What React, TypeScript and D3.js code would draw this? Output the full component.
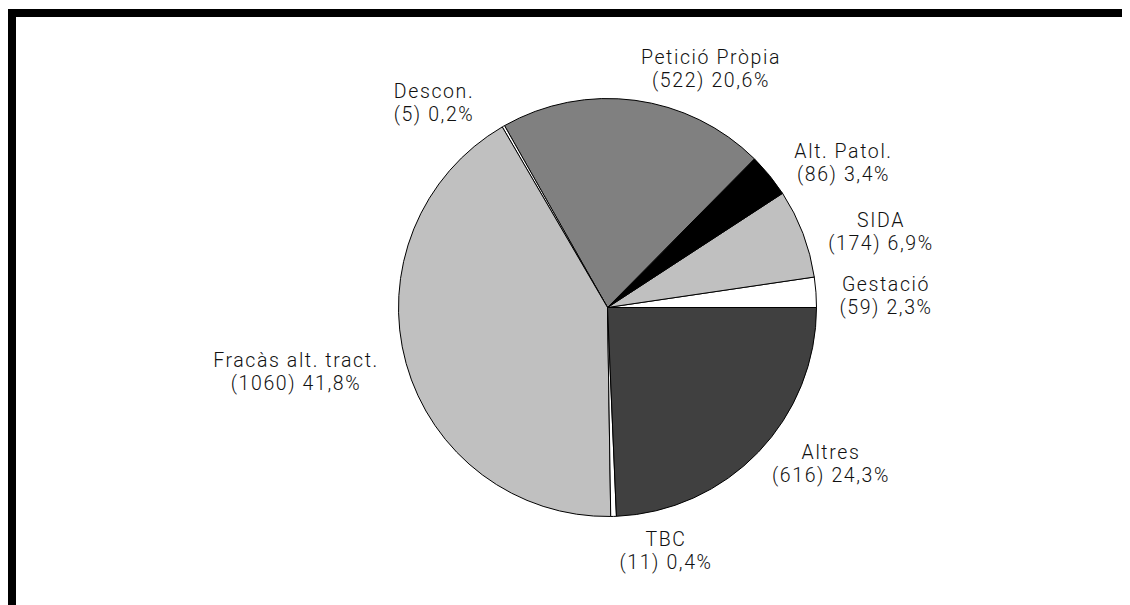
import React, { useEffect, useRef } from 'react';
import * as d3 from 'd3';

// Slices, counter-clockwise from 3 o'clock
const categories = [
  'Gestació',
  'SIDA',
  'Alt. Patol.',
  'Petició Pròpia',
  'Descon.',
  'Fracàs alt. tract.',
  'TBC',
  'Altres',
];
const counts = [59, 174, 86, 522, 5, 1060, 11, 616];
const fills = ['#ffffff', '#c0c0c0', '#000000', '#808080', '#ffffff', '#c0c0c0', '#ffffff', '#404040'];

// label anchor (first line baseline) relative to pie centre
const labelOffsets: [number, number][] = [
  [278.5, -16.5],
  [273.5, -80.5],
  [236, -149.5],
  [103.5, -243.5],
  [-173.5, -209.5],
  [-311.5, 59.5],
  [58.5, 238.5],
  [223.5, 151.5],
];

const width = 1122;
const height = 597;

const App: React.FC = () => {
  const svgRef = useRef<SVGSVGElement>(null);

  useEffect(() => {
    if (!svgRef.current) return;
    const svg = d3.select(svgRef.current);
    svg.selectAll('*').remove();

    // frame: thick bars on top and left
    svg.append('rect').attr('x', 0).attr('y', 1).attr('width', width).attr('height', 8).attr('fill', '#000');
    svg.append('rect').attr('x', 0).attr('y', 1).attr('width', 8).attr('height', height).attr('fill', '#000');

    const cx = 599.5;
    const cy = 299.5;
    const radius = 209;

    const total = d3.sum(counts);
    const data = categories.map((name, i) => ({ name, value: counts[i], fill: fills[i], i }));

    const pie = d3.pie<typeof data[number]>()
      .value(d => d.value)
      .sort(null)
      .startAngle(Math.PI / 2)
      .endAngle(Math.PI / 2 - 2 * Math.PI);

    const arc = d3.arc<d3.PieArcDatum<typeof data[number]>>()
      .innerRadius(0)
      .outerRadius(radius);

    const g = svg.append('g').attr('transform', `translate(${cx},${cy})`);

    g.selectAll('path.slice')
      .data(pie(data))
      .enter()
      .append('path')
      .attr('class', 'slice')
      .attr('d', arc)
      .attr('fill', d => d.data.fill)
      .attr('stroke', '#000')
      .attr('stroke-width', 1)
      .attr('stroke-linejoin', 'round');

    const fmt = (v: number) => d3.format('.1f')(v).replace('.', ',');

    const labels = g.selectAll('text.lbl')
      .data(data)
      .enter()
      .append('text')
      .attr('class', 'lbl')
      .attr('text-anchor', 'middle')
      .attr('font-family', 'Roboto, "Liberation Sans", Arial, sans-serif')
      .attr('font-weight', 300)
      .attr('font-size', 19.5)
      .attr('letter-spacing', 1.6)
      .attr('fill', '#111');

    labels.append('tspan')
      .attr('x', d => labelOffsets[d.i][0])
      .attr('y', d => labelOffsets[d.i][1])
      .text(d => d.name);

    labels.append('tspan')
      .attr('x', d => labelOffsets[d.i][0])
      .attr('y', d => labelOffsets[d.i][1] + 23)
      .text(d => `(${d.value}) ${fmt((d.value / total) * 100)}%`);
  }, []);

  return (
    <svg
      ref={svgRef}
      width={width}
      height={height}
      style={{ display: 'block', background: '#fff' }}
    />
  );
};

export default App;
